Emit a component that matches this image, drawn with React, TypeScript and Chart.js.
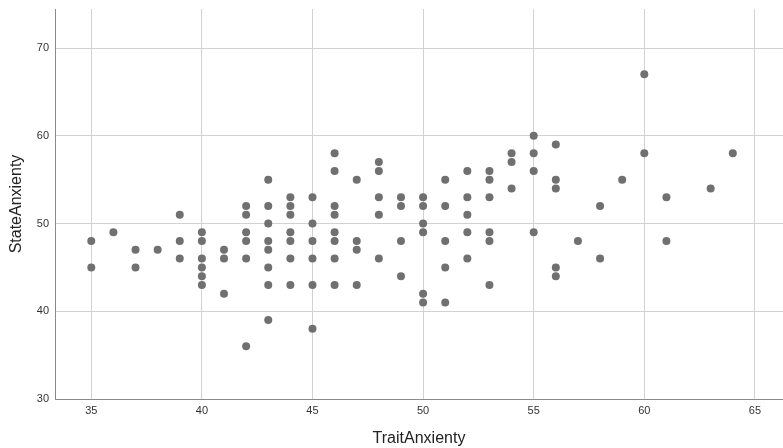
import React, { useEffect, useRef } from "react";
import { Chart, registerables } from "chart.js";

Chart.register(...registerables);

const traitAnxiety: number[] = [
  35, 35,
  36,
  37, 37,
  38,
  39, 39, 39,
  40, 40, 40, 40, 40, 40,
  41, 41, 41,
  42, 42, 42, 42, 42, 42,
  43, 43, 43, 43, 43, 43, 43, 43,
  44, 44, 44, 44, 44, 44, 44,
  45, 45, 45, 45, 45, 45,
  46, 46, 46, 46, 46, 46, 46, 46,
  47, 47, 47, 47,
  48, 48, 48, 48, 48,
  49, 49, 49, 49,
  50, 50, 50, 50, 50, 50,
  51, 51, 51, 51, 51,
  52, 52, 52, 52, 52,
  53, 53, 53, 53, 53, 53,
  54, 54, 54,
  55, 55, 55, 55,
  56, 56, 56, 56, 56,
  57,
  58, 58,
  59,
  60, 60,
  61, 61,
  63,
  64,
];

const stateAnxiety: number[] = [
  48, 45,
  49,
  47, 45,
  47,
  51, 48, 46,
  49, 48, 46, 45, 44, 43,
  47, 46, 42,
  52, 51, 49, 48, 46, 36,
  55, 52, 50, 48, 47, 45, 43, 39,
  53, 52, 51, 49, 48, 46, 43,
  53, 50, 48, 46, 43, 38,
  58, 56, 52, 51, 49, 48, 46, 43,
  55, 48, 47, 43,
  57, 56, 53, 51, 46,
  53, 52, 48, 44,
  53, 52, 50, 49, 42, 41,
  55, 52, 48, 45, 41,
  56, 53, 51, 49, 46,
  56, 55, 53, 49, 48, 43,
  58, 57, 54,
  60, 58, 56, 49,
  59, 55, 54, 45, 44,
  48,
  52, 46,
  55,
  67, 58,
  53, 48,
  54,
  58,
];

const xTitle = "TraitAnxienty";
const yTitle = "StateAnxienty";

export default function App() {
  const ref = useRef<HTMLCanvasElement | null>(null);

  useEffect(() => {
    if (!ref.current) return;
    const points = traitAnxiety.map((x, i) => ({ x, y: stateAnxiety[i] }));
    const tickFont = { family: "'Liberation Sans', Arial, sans-serif", size: 11 };
    const titleFont = { family: "'Liberation Sans', Arial, sans-serif", size: 16 };
    const chart = new Chart(ref.current, {
      type: "scatter",
      data: {
        datasets: [
          {
            data: points,
            backgroundColor: "#707070",
            borderColor: "#707070",
            borderWidth: 0,
            pointRadius: 4,
            pointHoverRadius: 4,
          },
        ],
      },
      options: {
        animation: false,
        responsive: false,
        layout: { autoPadding: false, padding: { top: 9, right: 0, left: 0, bottom: 0 } },
        plugins: { legend: { display: false }, tooltip: { enabled: false } },
        scales: {
          x: {
            type: "linear",
            min: 33.36,
            max: 66.27,
            afterFit: (s: any) => {
              s.height = 49;
              s.paddingLeft = 0;
              s.paddingRight = 0;
            },
            ticks: {
              stepSize: 5,
              includeBounds: false,
              padding: 5,
              color: "#333333",
              font: tickFont,
              maxRotation: 0,
            },
            grid: { color: "#d2d2d2", lineWidth: 1, drawTicks: false },
            border: { color: "#8a8a8a", width: 1 },
            title: {
              display: true,
              text: xTitle,
              color: "#222222",
              font: titleFont,
              padding: { top: 0, bottom: 0 },
            },
          },
          y: {
            type: "linear",
            min: 30,
            max: 74.45,
            afterFit: (s: any) => {
              s.width = 55;
              s.paddingTop = 0;
              s.paddingBottom = 0;
            },
            ticks: {
              stepSize: 10,
              includeBounds: false,
              padding: 6,
              color: "#333333",
              font: tickFont,
            },
            grid: { color: "#d2d2d2", lineWidth: 1, drawTicks: false },
            border: { color: "#8a8a8a", width: 1 },
            title: {
              display: true,
              text: yTitle,
              color: "#222222",
              font: titleFont,
              padding: { top: 7, bottom: 0 },
            },
          },
        },
      },
    });
    return () => chart.destroy();
  }, []);

  return (
    <div style={{ position: "fixed", left: 0, top: 0, width: 783, height: 448, background: "#fff" }}>
      <canvas ref={ref} width={783} height={448} style={{ display: "block" }} />
    </div>
  );
}
